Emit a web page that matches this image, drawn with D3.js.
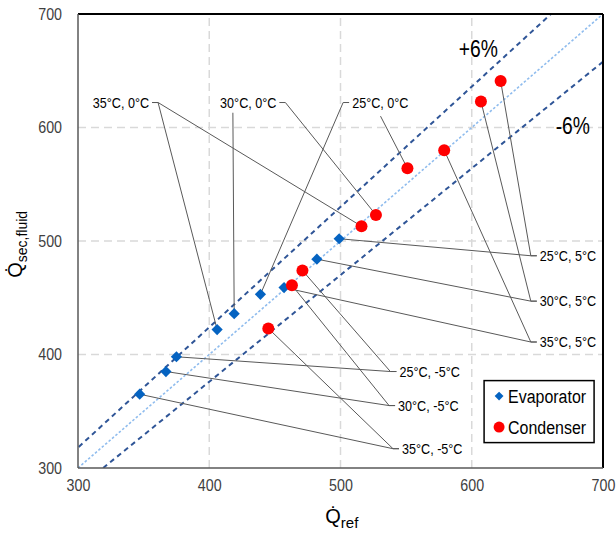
<!DOCTYPE html>
<html>
<head>
<meta charset="utf-8">
<script src="https://cdn.jsdelivr.net/npm/d3@7"></script>
<style>
  body { margin: 0; background: #fff; }
  svg { display: block; font-family: "Liberation Sans", Arial, sans-serif; }
</style>
</head>
<body>
<svg id="chart" width="616" height="535"></svg>
<script>
// operating conditions (condensing temp, evaporating temp)
const conditions = ["35°C, -5°C", "30°C, -5°C", "25°C, -5°C",
                    "35°C, 0°C", "30°C, 0°C", "25°C, 0°C",
                    "35°C, 5°C", "30°C, 5°C", "25°C, 5°C"];
const evapRef = [347, 367, 375, 406, 419, 439, 457, 482, 499];
const evapSec = [365, 385, 398, 422, 436, 453, 459, 484, 502];
const condRef = [445, 463, 471, 516, 527, 551, 579, 607, 622];
const condSec = [423, 461, 474, 513, 523, 564, 580, 623, 641];
const xTicks = [300, 400, 500, 600, 700];
const yTicks = [300, 400, 500, 600, 700];
const bandPct = 6;

// label placement (data units): where the leader lines meet, and which side the text sits
const labelLayout = [
  { x: 540, y: 317, side: "right" },
  { x: 537, y: 355, side: "right" },
  { x: 538, y: 385, side: "right" },
  { x: 361, y: 622, side: "left" },
  { x: 458, y: 622, side: "left", evapAt: [418, 613] },
  { x: 502, y: 622, side: "right", condAt: [530.5, 610] },
  { x: 645, y: 411, side: "right" },
  { x: 645, y: 447, side: "right" },
  { x: 645, y: 487, side: "right" }
];

const width = 616, height = 535;
const margin = { top: 14, right: 13, bottom: 67, left: 78 };
const NARROW = 0.84; // squeeze to look like Arial Narrow

const svg = d3.select("#chart");

const x = d3.scaleLinear().domain([300, 700]).range([margin.left, width - margin.right]);
const y = d3.scaleLinear().domain([300, 700]).range([height - margin.bottom, margin.top]);

function narrowText(parent, px, py, str, size, anchor) {
  const g = parent.append("g").attr("transform", `translate(${px},${py}) scale(${NARROW},1)`);
  return g.append("text").attr("text-anchor", anchor || "start").attr("font-size", size).text(str);
}

// grid
svg.append("g")
  .selectAll("line")
  .data(xTicks.slice(1, -1))
  .join("line")
  .attr("x1", d => x(d)).attr("x2", d => x(d))
  .attr("y1", y(300)).attr("y2", y(700))
  .attr("stroke", "#d9d9d9").attr("stroke-width", 1.5).attr("stroke-dasharray", "8,5");
svg.append("g")
  .selectAll("line")
  .data(yTicks.slice(1, -1))
  .join("line")
  .attr("y1", d => y(d)).attr("y2", d => y(d))
  .attr("x1", x(300)).attr("x2", x(700))
  .attr("stroke", "#d9d9d9").attr("stroke-width", 1.5).attr("stroke-dasharray", "8,5");

// clip for reference lines
svg.append("clipPath").attr("id", "plotclip")
  .append("rect")
  .attr("x", x(300)).attr("y", y(700))
  .attr("width", x(700) - x(300)).attr("height", y(300) - y(700));

const refLine = d3.line().x(d => x(d[0])).y(d => y(d[1]));
const lines = svg.append("g").attr("clip-path", "url(#plotclip)");
lines.append("path")
  .attr("d", refLine([[300, 300], [700, 700]]))
  .attr("fill", "none").attr("stroke", "#8fbcee").attr("stroke-width", 1.6)
  .attr("stroke-dasharray", "2.5,2");
[1 + bandPct / 100, 1 - bandPct / 100].forEach(k => {
  lines.append("path")
    .attr("d", refLine([[250, 250 * k], [750, 750 * k]]))
    .attr("fill", "none").attr("stroke", "#2f5597").attr("stroke-width", 2)
    .attr("stroke-dasharray", "5,4");
});

narrowText(svg, x(605), y(662), "+6%", 23, "middle");
narrowText(svg, x(677), y(594), "-6%", 23, "middle");

// leader lines + labels
const leaders = svg.append("g").attr("fill", "none").attr("stroke", "#595959").attr("stroke-width", 1);
const labels = svg.append("g").attr("fill", "#000");

conditions.forEach((name, i) => {
  const L = labelLayout[i];
  const ax = x(L.x), ay = y(L.y);
  const dir = L.side === "right" ? 1 : -1;
  const targets = [
    { p: [evapRef[i], evapSec[i]], at: L.evapAt },
    { p: [condRef[i], condSec[i]], at: L.condAt }
  ];
  targets.forEach(t => {
    if (t.at) {
      leaders.append("path")
        .attr("d", d3.line()([[x(t.p[0]), y(t.p[1])], [x(t.at[0]), y(t.at[1])]]));
    } else {
      leaders.append("path")
        .attr("d", d3.line()([[x(t.p[0]), y(t.p[1])], [ax, ay], [ax + dir * 6, ay]]));
    }
  });
  narrowText(labels, ax + dir * 9, ay, name, 15, L.side === "right" ? "start" : "end")
    .attr("dy", "0.35em");
});

// points
svg.append("g")
  .selectAll("path")
  .data(evapRef.map((v, i) => [v, evapSec[i]]))
  .join("path")
  .attr("d", d3.symbol(d3.symbolDiamond2, 80))
  .attr("transform", d => `translate(${x(d[0])},${y(d[1])})`)
  .attr("fill", "#0563c1");
svg.append("g")
  .selectAll("circle")
  .data(condRef.map((v, i) => [v, condSec[i]]))
  .join("circle")
  .attr("cx", d => x(d[0])).attr("cy", d => y(d[1]))
  .attr("r", 6)
  .attr("fill", "#ff0000");

// plot frame
svg.append("line").attr("x1", x(300)).attr("x2", x(700)).attr("y1", y(700)).attr("y2", y(700))
  .attr("stroke", "#000").attr("stroke-width", 2);
svg.append("line").attr("x1", x(700)).attr("x2", x(700)).attr("y1", y(700)).attr("y2", y(300))
  .attr("stroke", "#000").attr("stroke-width", 2);
svg.append("line").attr("x1", x(300)).attr("x2", x(300)).attr("y1", y(700)).attr("y2", y(300))
  .attr("stroke", "#595959").attr("stroke-width", 1.5);
svg.append("line").attr("x1", x(300)).attr("x2", x(700)).attr("y1", y(300)).attr("y2", y(300))
  .attr("stroke", "#595959").attr("stroke-width", 1.5);

// axes (tick labels only)
const xAxis = svg.append("g")
  .attr("transform", `translate(0,${y(300)})`)
  .call(d3.axisBottom(x).tickValues(xTicks).tickSize(0).tickPadding(11));
const yAxis = svg.append("g")
  .attr("transform", `translate(${x(300)},0)`)
  .call(d3.axisLeft(y).tickValues(yTicks).tickSize(0).tickPadding(19));
[xAxis, yAxis].forEach(g => {
  g.select(".domain").remove();
  g.selectAll("text").attr("font-size", 17).attr("fill", "#404040")
    .attr("font-family", "Liberation Sans, Arial, sans-serif")
    .attr("transform", `scale(${NARROW},1)`);
});

// axis titles
const xt = svg.append("text")
  .attr("x", x(501)).attr("y", 523)
  .attr("text-anchor", "middle").attr("font-size", 20);
xt.append("tspan").text("Q\u0307");
xt.append("tspan").text("ref").attr("font-size", 15).attr("dy", 5);

const yt = svg.append("text")
  .attr("transform", `translate(22,${y(497)}) rotate(-90)`)
  .attr("text-anchor", "middle").attr("font-size", 20);
yt.append("tspan").text("Q\u0307");
yt.append("tspan").text("sec,fluid").attr("font-size", 14).attr("dy", 5);

// legend
const lg = svg.append("g").attr("transform", `translate(${x(609.4)},${y(377)})`);
lg.append("rect").attr("width", 110).attr("height", 62)
  .attr("fill", "#fff").attr("stroke", "#000").attr("stroke-width", 1.5);
lg.append("path").attr("d", d3.symbol(d3.symbolDiamond2, 50))
  .attr("transform", "translate(15,15.5)").attr("fill", "#0563c1");
lg.append("circle").attr("cx", 15).attr("cy", 46.5).attr("r", 5.5).attr("fill", "#ff0000");
narrowText(lg, 24, 15.5, "Evaporator", 19).attr("dy", "0.35em");
narrowText(lg, 24, 46.5, "Condenser", 19).attr("dy", "0.35em");
</script>
</body>
</html>
